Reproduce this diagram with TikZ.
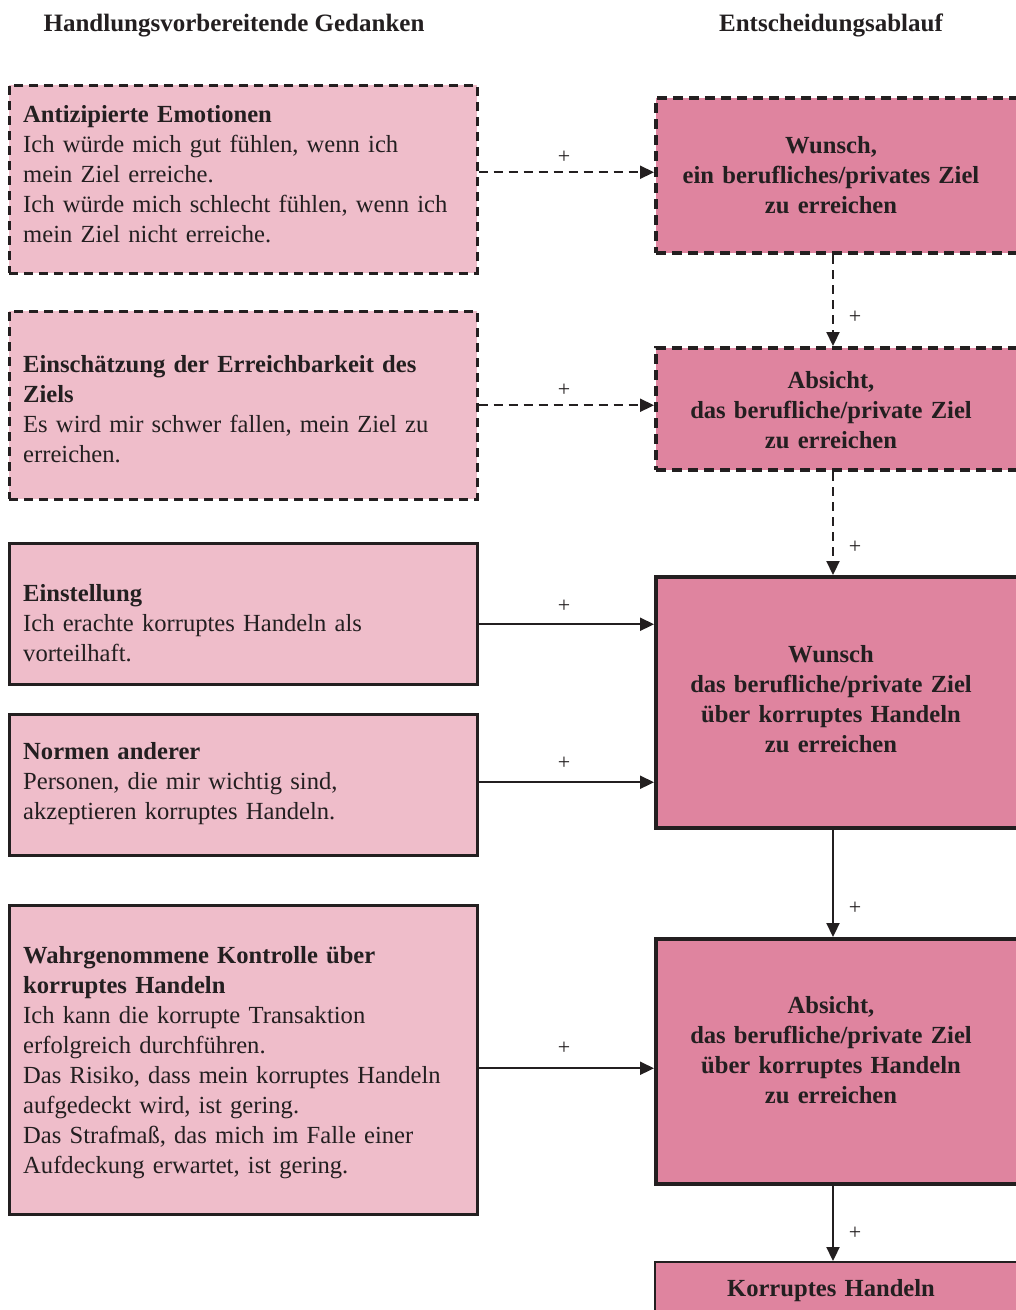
\documentclass[tikz,border=0pt]{standalone}
\usepackage{fontspec}
\setmainfont{Liberation Serif}
\usetikzlibrary{arrows.meta,calc}
\definecolor{lightpink}{HTML}{EFBDCA}
\definecolor{darkpink}{HTML}{DF849F}
\definecolor{ink}{HTML}{231F20}
\begin{document}
\begin{tikzpicture}[x=1pt,y=-1pt,
 lbox/.style={draw=ink, fill=lightpink, line width=2.5pt, inner sep=0pt, anchor=north west, minimum width=468pt},
 ldash/.style={lbox, dash pattern=on 9pt off 6pt},
 rbox/.style={draw=ink, fill=darkpink, line width=4pt, inner sep=0pt, anchor=north west, minimum width=376pt},
 rdash/.style={rbox, dash pattern=on 10pt off 6pt},
 ltext/.style={anchor=base west, text width=445pt, align=left, inner sep=0pt, font=\fontsize{24.6}{30}\selectfont, text=ink},
 rtext/.style={anchor=base, text width=370pt, align=center, inner sep=0pt, font=\bfseries\fontsize{24.6}{30}\selectfont, text=ink},
 head/.style={anchor=base, inner sep=0pt, font=\bfseries\fontsize{25}{28}\selectfont, text=ink},
 arr/.style={draw=ink, line width=2.2pt, -{Triangle[length=14pt,width=13pt]}},
 darr/.style={arr, dash pattern=on 9pt off 6pt},
 plus/.style={inner sep=0pt, font=\fontsize{22}{22}\selectfont, text=ink}]
\clip (0,0) rectangle (1016,1310);

% headers
\node[head] (H1) at (234,31) {Handlungsvorbereitende Gedanken};
\node[head] (H2) at (831,31) {Entscheidungsablauf};

% left boxes
\node[ldash, minimum height=188pt] (L1) at (8,84) {};
\node[ldash, minimum height=188pt] (L2) at (8,310) {};
\node[lbox, minimum height=141pt] (L3) at (8,542) {};
\node[lbox, minimum height=141pt] (L4) at (8,713) {};
\node[lbox, minimum height=309pt] (L5) at (8,904) {};

\node[ltext] (T1) at (23,122) {\textbf{Antizipierte Emotionen}\\Ich würde mich gut fühlen, wenn ich\\mein Ziel erreiche.\\Ich würde mich schlecht fühlen, wenn ich\\mein Ziel nicht erreiche.};
\node[ltext] (T2) at (23,372) {\textbf{Einschätzung der Erreichbarkeit des}\\\textbf{Ziels}\\Es wird mir schwer fallen, mein Ziel zu\\erreichen.};
\node[ltext] (T3) at (23,601) {\textbf{Einstellung}\\Ich erachte korruptes Handeln als\\vorteilhaft.};
\node[ltext] (T4) at (23,759) {\textbf{Normen anderer}\\Personen, die mir wichtig sind,\\akzeptieren korruptes Handeln.};
\node[ltext] (T5) at (23,963) {\textbf{Wahrgenommene Kontrolle über}\\\textbf{korruptes Handeln}\\Ich kann die korrupte Transaktion\\erfolgreich durchführen.\\Das Risiko, dass mein korruptes Handeln\\aufgedeckt wird, ist gering.\\Das Strafmaß, das mich im Falle einer\\Aufdeckung erwartet, ist gering.};

% right boxes
\node[rdash, minimum height=155pt] (R1) at (654,96) {};
\node[rdash, minimum height=122pt] (R2) at (654,346) {};
\node[rbox, minimum height=251pt] (R3) at (654,575) {};
\node[rbox, minimum height=245pt] (R4) at (654,937) {};
\node[rbox, line width=2.2pt, minimum height=80pt] (R5) at (654,1261) {};

\node[rtext] (S1) at (831,153) {Wunsch,\\ein berufliches/privates Ziel\\zu erreichen};
\node[rtext] (S2) at (831,388) {Absicht,\\das berufliche/private Ziel\\zu erreichen};
\node[rtext] (S3) at (831,662) {Wunsch\\das berufliche/private Ziel\\über korruptes Handeln\\zu erreichen};
\node[rtext] (S4) at (831,1013) {Absicht,\\das berufliche/private Ziel\\über korruptes Handeln\\zu erreichen};
\node[rtext] (S5) at (831,1296) {Korruptes Handeln};

% horizontal connectors
\coordinate (a1) at ([yshift=7pt]L1.east);
\draw[darr] (a1) -- (a1 -| R1.west);
\draw[darr] (L2.east) -- (L2.east -| R2.west);
\coordinate (a3) at ([yshift=-10.5pt]L3.east);
\draw[arr] (a3) -- (a3 -| R3.west);
\coordinate (a4) at ([yshift=2.5pt]L4.east);
\draw[arr] (a4) -- (a4 -| R3.west);
\coordinate (a5) at ([yshift=-8.5pt]L5.east);
\draw[arr] (a5) -- (a5 -| R4.west);

% vertical connectors
\coordinate (v1) at ([xshift=-11pt]R1.south);
\draw[darr] (v1) -- (v1 |- R2.north);
\coordinate (v2) at ([xshift=-11pt]R2.south);
\draw[darr] (v2) -- (v2 |- R3.north);
\coordinate (v3) at ([xshift=-11pt]R3.south);
\draw[arr] (v3) -- (v3 |- R4.north);
\coordinate (v4) at ([xshift=-11pt]R4.south);
\draw[arr] (v4) -- (v4 |- R5.north);

% plus signs
\node[plus] (p1) at (564,157) {+};
\node[plus] (p2) at (564,390) {+};
\node[plus] (p3) at (564,606) {+};
\node[plus] (p4) at (564,763) {+};
\node[plus] (p5) at (564,1048) {+};
\node[plus] (p6) at (855,317) {+};
\node[plus] (p7) at (855,547) {+};
\node[plus] (p8) at (855,908) {+};
\node[plus] (p9) at (855,1233) {+};
\end{tikzpicture}
\end{document}
